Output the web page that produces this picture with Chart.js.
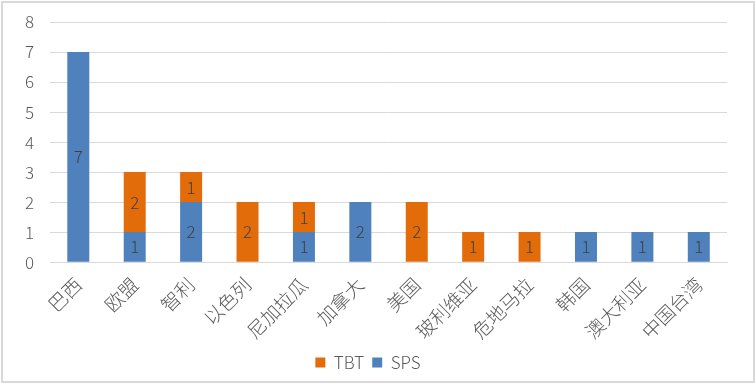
<!DOCTYPE html>
<html>
<head>
<meta charset="utf-8">
<script src="https://cdn.jsdelivr.net/npm/chart.js@4/dist/chart.umd.min.js"></script>
<style>
	body { margin: 0; background: #fff; }
	.frame { position: absolute; left: 1px; top: 1px; width: 750px; height: 378px; border: 2px solid #d9d9d9; }
	canvas { display: block; }
</style>
</head>
<body>
<div class="frame"><canvas id="chart" width="750" height="378"></canvas></div>
<script>
var categories = ['巴西', '欧盟', '智利', '以色列', '尼加拉瓜', '加拿大', '美国', '玻利维亚', '危地马拉', '韩国', '澳大利亚', '中国台湾'];
var spsValues = [7, 1, 2, 0, 1, 2, 0, 0, 0, 1, 1, 1];
var tbtValues = [0, 2, 1, 2, 1, 0, 2, 1, 1, 0, 0, 0];
var yTicks = [0, 1, 2, 3, 4, 5, 6, 7, 8];

var fontFamily = '"Noto Sans CJK SC", "Noto Sans", sans-serif';

// write the value in the middle of each bar segment
var barLabels = {
	id: 'barLabels',
	afterDatasetsDraw: function(chart) {
		var ctx = chart.ctx;
		ctx.save();
		ctx.fillStyle = '#404040';
		ctx.font = '300 17px ' + fontFamily;
		ctx.textAlign = 'center';
		ctx.textBaseline = 'middle';
		chart.data.datasets.forEach(function(ds, i) {
			chart.getDatasetMeta(i).data.forEach(function(bar, j) {
				if (!ds.data[j]) return;
				var mid = (bar.y + bar.base) / 2;
				ctx.fillText(String(ds.data[j]), bar.x, mid);
			});
		});
		ctx.restore();
	}
};

var tickFont = { family: fontFamily, size: 17, weight: '300' };

var ctx = document.getElementById('chart').getContext('2d');
var chart = new Chart(ctx, {
	type: 'bar',
	data: {
		labels: categories,
		datasets: [
			{ label: 'SPS', data: spsValues, backgroundColor: '#4f81bd', barPercentage: 0.78, categoryPercentage: 0.5 },
			{ label: 'TBT', data: tbtValues, backgroundColor: '#e36c0a', barPercentage: 0.78, categoryPercentage: 0.5 }
		]
	},
	options: {
		responsive: false,
		animation: false,
		layout: { padding: { left: 6, right: 26, top: 0, bottom: 0 } },
		plugins: {
			legend: {
				position: 'bottom',
				reverse: true,
				labels: { boxWidth: 10, boxHeight: 10, color: '#595959', font: tickFont, padding: 8 }
			},
			tooltip: { enabled: false }
		},
		scales: {
			x: {
				stacked: true,
				grid: { display: false },
				border: { color: '#d9d9d9' },
				ticks: { color: '#595959', font: { family: fontFamily, size: 19, weight: '300' }, minRotation: 45, maxRotation: 45, padding: 3 }
			},
			y: {
				stacked: true,
				min: 0,
				max: 8,
				afterBuildTicks: function(axis) {
					axis.ticks = yTicks.map(function(v) { return { value: v }; });
				},
				afterFit: function(axis) {
					axis.paddingTop = 19;
				},
				grid: { color: '#d9d9d9', drawTicks: false },
				border: { display: false },
				ticks: { color: '#595959', font: tickFont, padding: 16 }
			}
		}
	},
	plugins: [barLabels]
});
</script>
</body>
</html>
